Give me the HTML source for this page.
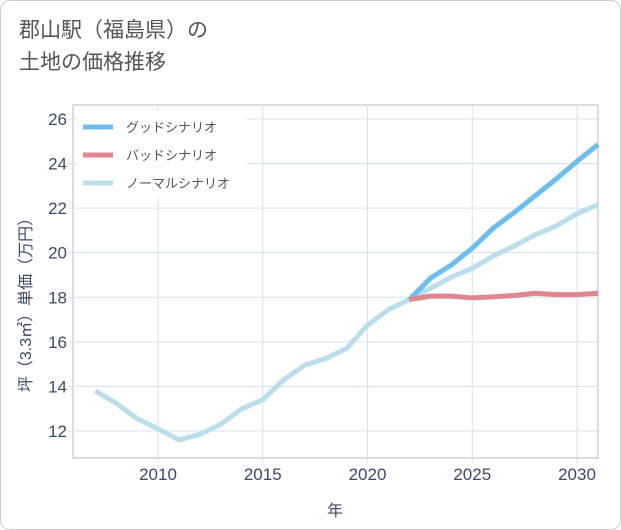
<!DOCTYPE html>
<html><head><meta charset="utf-8">
<style>
body{margin:0;background:#fff;}
#wrap{position:relative;width:619px;height:528px;border:1px solid #ccc;border-radius:10px;overflow:hidden;background:#fff;font-family:"Liberation Sans","Noto Sans CJK JP",sans-serif;}
#title{position:absolute;left:18px;top:14px;font-size:21px;line-height:32px;color:#555;}
svg{position:absolute;left:0;top:0;}
</style></head><body>
<div id="wrap">
<div id="title">郡山駅（福島県）の<br>土地の価格推移</div>
<svg id="chart" width="621" height="530"></svg>
</div>
<script>
const years=[2007,2008,2009,2010,2011,2012,2013,2014,2015,2016,2017,2018,2019,2020,2021,2022,2023,2024,2025,2026,2027,2028,2029,2030,2031];
const normalValues=[13.8,13.25,12.55,12.1,11.6,11.85,12.3,13.0,13.4,14.3,14.95,15.25,15.7,16.75,17.45,17.9,18.4,18.9,19.3,19.85,20.3,20.8,21.2,21.75,22.15];
const goodYears=[2022,2023,2024,2025,2026,2027,2028,2029,2030,2031];
const goodValues=[17.9,18.85,19.45,20.2,21.1,21.8,22.55,23.3,24.1,24.85];
const badValues=[17.9,18.05,18.05,17.97,18.02,18.08,18.18,18.12,18.12,18.18];
const xTicks=[2010,2015,2020,2025,2030];
const yTicks=[12,14,16,18,20,22,24,26];
const NS="http://www.w3.org/2000/svg";
const svg=document.getElementById('chart');
const L=72,R=597,T=104,B=457;
const x=v=>157+(v-2010)*20.95;
const y=v=>430-(v-12)*22.29;
function mk(t,a){const e=document.createElementNS(NS,t);for(const k in a)e.setAttribute(k,a[k]);svg.appendChild(e);return e;}
const bg=mk('rect',{x:L,y:T,width:R-L,height:B-T,fill:'#fff',stroke:'#bbb'});


xTicks.forEach(t=>{
  const g=mk('line',{x1:x(t),x2:x(t),y1:T,y2:B+5,stroke:'#d3e3ef'});
  
  
  const l=mk('text',{x:x(t),y:479,'text-anchor':'middle','font-size':17,fill:'#3c4a66'});
  l.textContent=t;
  
  
});
yTicks.forEach(t=>{
  const g=mk('line',{x1:L-5,x2:R,y1:y(t),y2:y(t),stroke:'#d3e3ef'});
  
  
  const l=mk('text',{x:66,y:y(t)+6,'text-anchor':'end','font-size':17,fill:'#3c4a66'});
  l.textContent=t;
  
  
});
const lb=mk('rect',{x:76,y:110,width:170,height:88,fill:'#fff','fill-opacity':0.9});


function line(xs,vs,color,name){
  const p=mk('polyline',{points:xs.map((yr,i)=>x(yr)+','+y(vs[i])).join(' '),fill:'none',stroke:color,'stroke-width':5,'stroke-linejoin':'round'});
  
  
}
line(years,normalValues,'#badeec','normal-scenario-line');
line(goodYears,goodValues,'#6cbdf0','good-scenario-line');
line(goodYears,badValues,'#e0868c','bad-scenario-line');
const leg=[['グッドシナリオ','#6cbdf0'],['バッドシナリオ','#e0868c'],['ノーマルシナリオ','#badeec']];
leg.forEach((d,i)=>{
  const yy=126+i*28;
  const s=mk('line',{x1:82,x2:112,y1:yy,y2:yy,stroke:d[1],'stroke-width':5});
  
  
  const t=mk('text',{x:125,y:yy+5,'font-size':13,fill:'#555'});
  t.textContent=d[0];
  
  
});
const xt=mk('text',{x:334,y:515,'text-anchor':'middle','font-size':16,fill:'#3c4a66'});
xt.textContent='年';


const yt=mk('text',{x:0,y:0,'text-anchor':'middle','font-size':16,fill:'#3c4a66',transform:'translate(30,300) rotate(-90)'});
yt.textContent='坪（3.3㎡）単価（万円）';


</script>
</body></html>
